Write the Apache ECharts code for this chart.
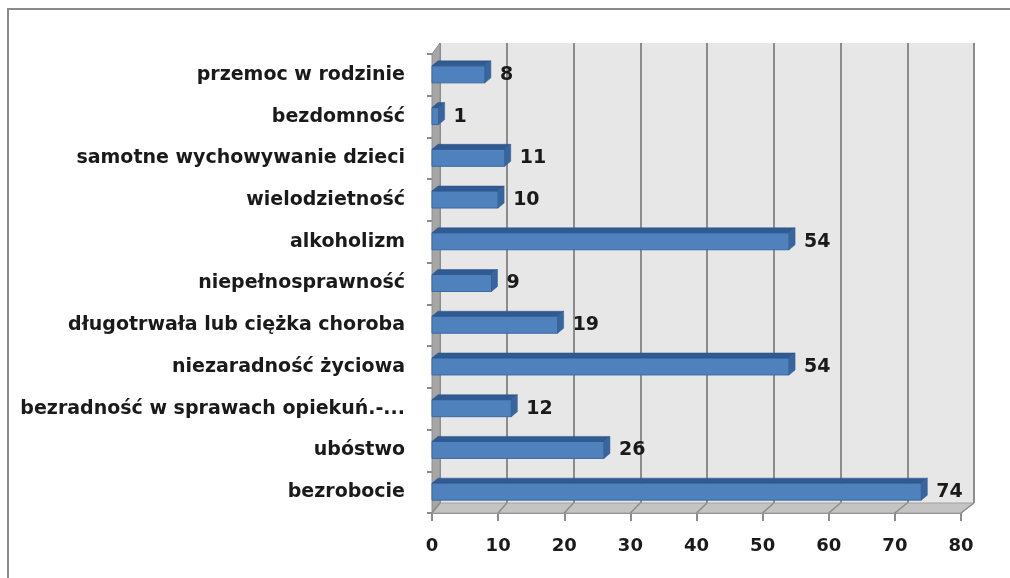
<!DOCTYPE html>
<html>
<head>
<meta charset="utf-8">
<script src="https://cdn.jsdelivr.net/npm/echarts@6/dist/echarts.min.js"></script>
<style>
  html, body { margin: 0; padding: 0; background: #fff; }
  #chart { width: 1010px; height: 578px; }
</style>
</head>
<body>
<div id="chart"></div>
<script>
// categories top to bottom, as in the picture
const categories = [
  "przemoc w rodzinie",
  "bezdomność",
  "samotne wychowywanie dzieci",
  "wielodzietność",
  "alkoholizm",
  "niepełnosprawność",
  "długotrwała lub ciężka choroba",
  "niezaradność życiowa",
  "bezradność w sprawach opiekuń.-...",
  "ubóstwo",
  "bezrobocie"
];
const counts = [8, 1, 11, 10, 54, 9, 19, 54, 12, 26, 74];
const xTicks = [0, 10, 20, 30, 40, 50, 60, 70, 80];

// frame of the fake 3d box (back wall and front plane)
const W = 1010, H = 578;
const back = { left: 440, right: 974, top: 43, bottom: 503 };
const front = { left: 432, right: 961, top: 54, bottom: 513 };
const depthX = 6, depthY = 5;

const chart = echarts.init(document.getElementById("chart"));

function renderBar(params, api) {
  const v = api.value(0);
  const c = api.value(1);
  const p0 = api.coord([0, c]);
  const p1 = api.coord([v, c]);
  const h = 17;
  const x0 = p0[0], x1 = p1[0];
  const y = p0[1] - 9;
  return {
    type: "group",
    children: [
      {
        type: "rect",
        shape: { x: x0, y: y, width: x1 - x0, height: h },
        style: { fill: "#4f81bd", stroke: "#3b6aa5", lineWidth: 1 }
      },
      {
        type: "polygon",
        shape: { points: [[x0, y], [x0 + depthX, y - depthY], [x1 + depthX, y - depthY], [x1, y]] },
        style: { fill: "#2f5b92", stroke: "#2a5287", lineWidth: 0.5 }
      },
      {
        type: "polygon",
        shape: { points: [[x1, y], [x1 + depthX, y - depthY], [x1 + depthX, y + h - depthY], [x1, y + h]] },
        style: { fill: "#3a659c", stroke: "#2f5b92", lineWidth: 0.5 }
      },
      {
        type: "text",
        x: x1 + depthX + 9,
        y: p0[1],
        style: {
          text: String(v),
          fill: "#1a1a1a",
          font: "bold 19px 'DejaVu Sans'",
          verticalAlign: "middle"
        }
      }
    ]
  };
}

// floor and left wall decoration
const scaleBack = (back.right - back.left) / 80;
const scaleFront = (front.right - front.left) / 80;
const floorLines = xTicks.map(t => ({
  type: "line",
  shape: {
    x1: front.left + t * scaleFront, y1: front.bottom,
    x2: back.left + t * scaleBack, y2: back.bottom
  },
  style: { stroke: "#8c8c8c", lineWidth: 1.5 },
  z: 2
}));

const graphics = [
  {
    type: "rect",
    shape: { x: 8, y: 9, width: W + 50, height: H + 50 },
    style: { fill: null, stroke: "#8a8a8a", lineWidth: 2 },
    z: 0
  },
  {
    type: "polygon",
    shape: { points: [[front.left, front.bottom], [back.left, back.bottom], [back.right, back.bottom], [front.right, front.bottom]] },
    style: { fill: "#c4c4c4", stroke: "#a0a0a0", lineWidth: 1 },
    z: 1
  },
  {
    type: "polygon",
    shape: { points: [[front.left, front.top], [back.left, back.top], [back.left, back.bottom], [front.left, front.bottom]] },
    style: { fill: "#a6a6a6", stroke: "#8c8c8c", lineWidth: 1 },
    z: 1
  }
].concat(floorLines);

const option = {
  animation: false,
  backgroundColor: "#ffffff",
  graphic: { elements: graphics },
  grid: [
    {
      left: back.left, right: W - back.right, top: back.top, bottom: H - back.bottom,
      show: true, backgroundColor: "#e7e7e7", borderWidth: 0
    },
    {
      left: front.left, right: W - front.right, top: front.top, bottom: H - front.bottom
    }
  ],
  xAxis: [
    {
      gridIndex: 0, type: "value", min: 0, max: 80, interval: 10,
      axisLine: { show: false }, axisTick: { show: false }, axisLabel: { show: false },
      splitLine: { show: true, lineStyle: { color: "#8c8c8c", width: 2 } }
    },
    {
      gridIndex: 1, type: "value", min: 0, max: 80, interval: 10,
      axisLine: { show: true, lineStyle: { color: "#8c8c8c", width: 1 } },
      axisTick: { show: true, length: 8, lineStyle: { color: "#8c8c8c", width: 2 } },
      axisLabel: {
        margin: 24, color: "#1a1a1a",
        fontFamily: "DejaVu Sans", fontWeight: "bold", fontSize: 18
      },
      splitLine: { show: false }
    }
  ],
  yAxis: [
    {
      gridIndex: 0, type: "category", data: categories, inverse: true, show: false
    },
    {
      gridIndex: 1, type: "category", data: categories, inverse: true,
      axisLine: { show: false },
      axisTick: { show: true, length: 5, lineStyle: { color: "#8c8c8c", width: 2 } },
      axisLabel: {
        margin: 27, color: "#1a1a1a",
        fontFamily: "DejaVu Sans", fontWeight: "bold", fontSize: 19
      },
      splitLine: { show: false }
    }
  ],
  series: [
    {
      type: "custom",
      xAxisIndex: 1,
      yAxisIndex: 1,
      renderItem: renderBar,
      encode: { x: 0, y: 1 },
      data: counts.map((v, i) => [v, i]),
      z: 5
    }
  ]
};

chart.setOption(option);
</script>
</body>
</html>
